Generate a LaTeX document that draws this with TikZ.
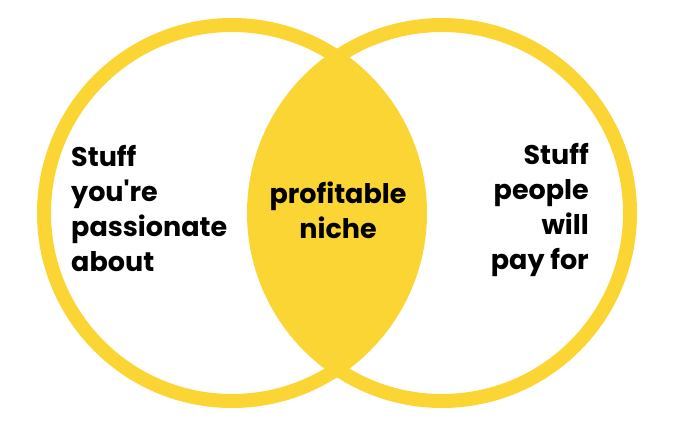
\documentclass[tikz,border=0pt]{standalone}
\usepackage{fontspec}
\setmainfont{Poppins}
\usepackage{tikz}

\definecolor{nicheyellow}{RGB}{250,213,52}

\begin{document}
\begin{tikzpicture}[x=1pt, y=-1pt, every node/.style={inner sep=0pt,
                                  font=\bfseries\fontsize{27}{35}\selectfont}]

                      \useasboundingbox (0, 0) rectangle (678, 431);

                      \coordinate (l) at (232, 213);
                      \coordinate (r) at (442, 213);

                      \begin{scope}
                              \clip (l) circle (188);
                              \fill[nicheyellow] (r) circle (188);
                          \end{scope}

                      \foreach \c in {l, r} {
                              \draw[nicheyellow, line width=14pt] (\c) circle (188);
                          }

                      \node[anchor=west, align=left] (passion) at (71, 209) {Stuff\\you\textquotesingle re\\passionate\\about};
                      \node[align=center] (niche) at (338, 210) {profitable\\niche};
                      \node[anchor=east, align=right] (pay) at (589, 210) {Stuff\\people\\will\\pay for};
                  \end{tikzpicture}
\end{document}
